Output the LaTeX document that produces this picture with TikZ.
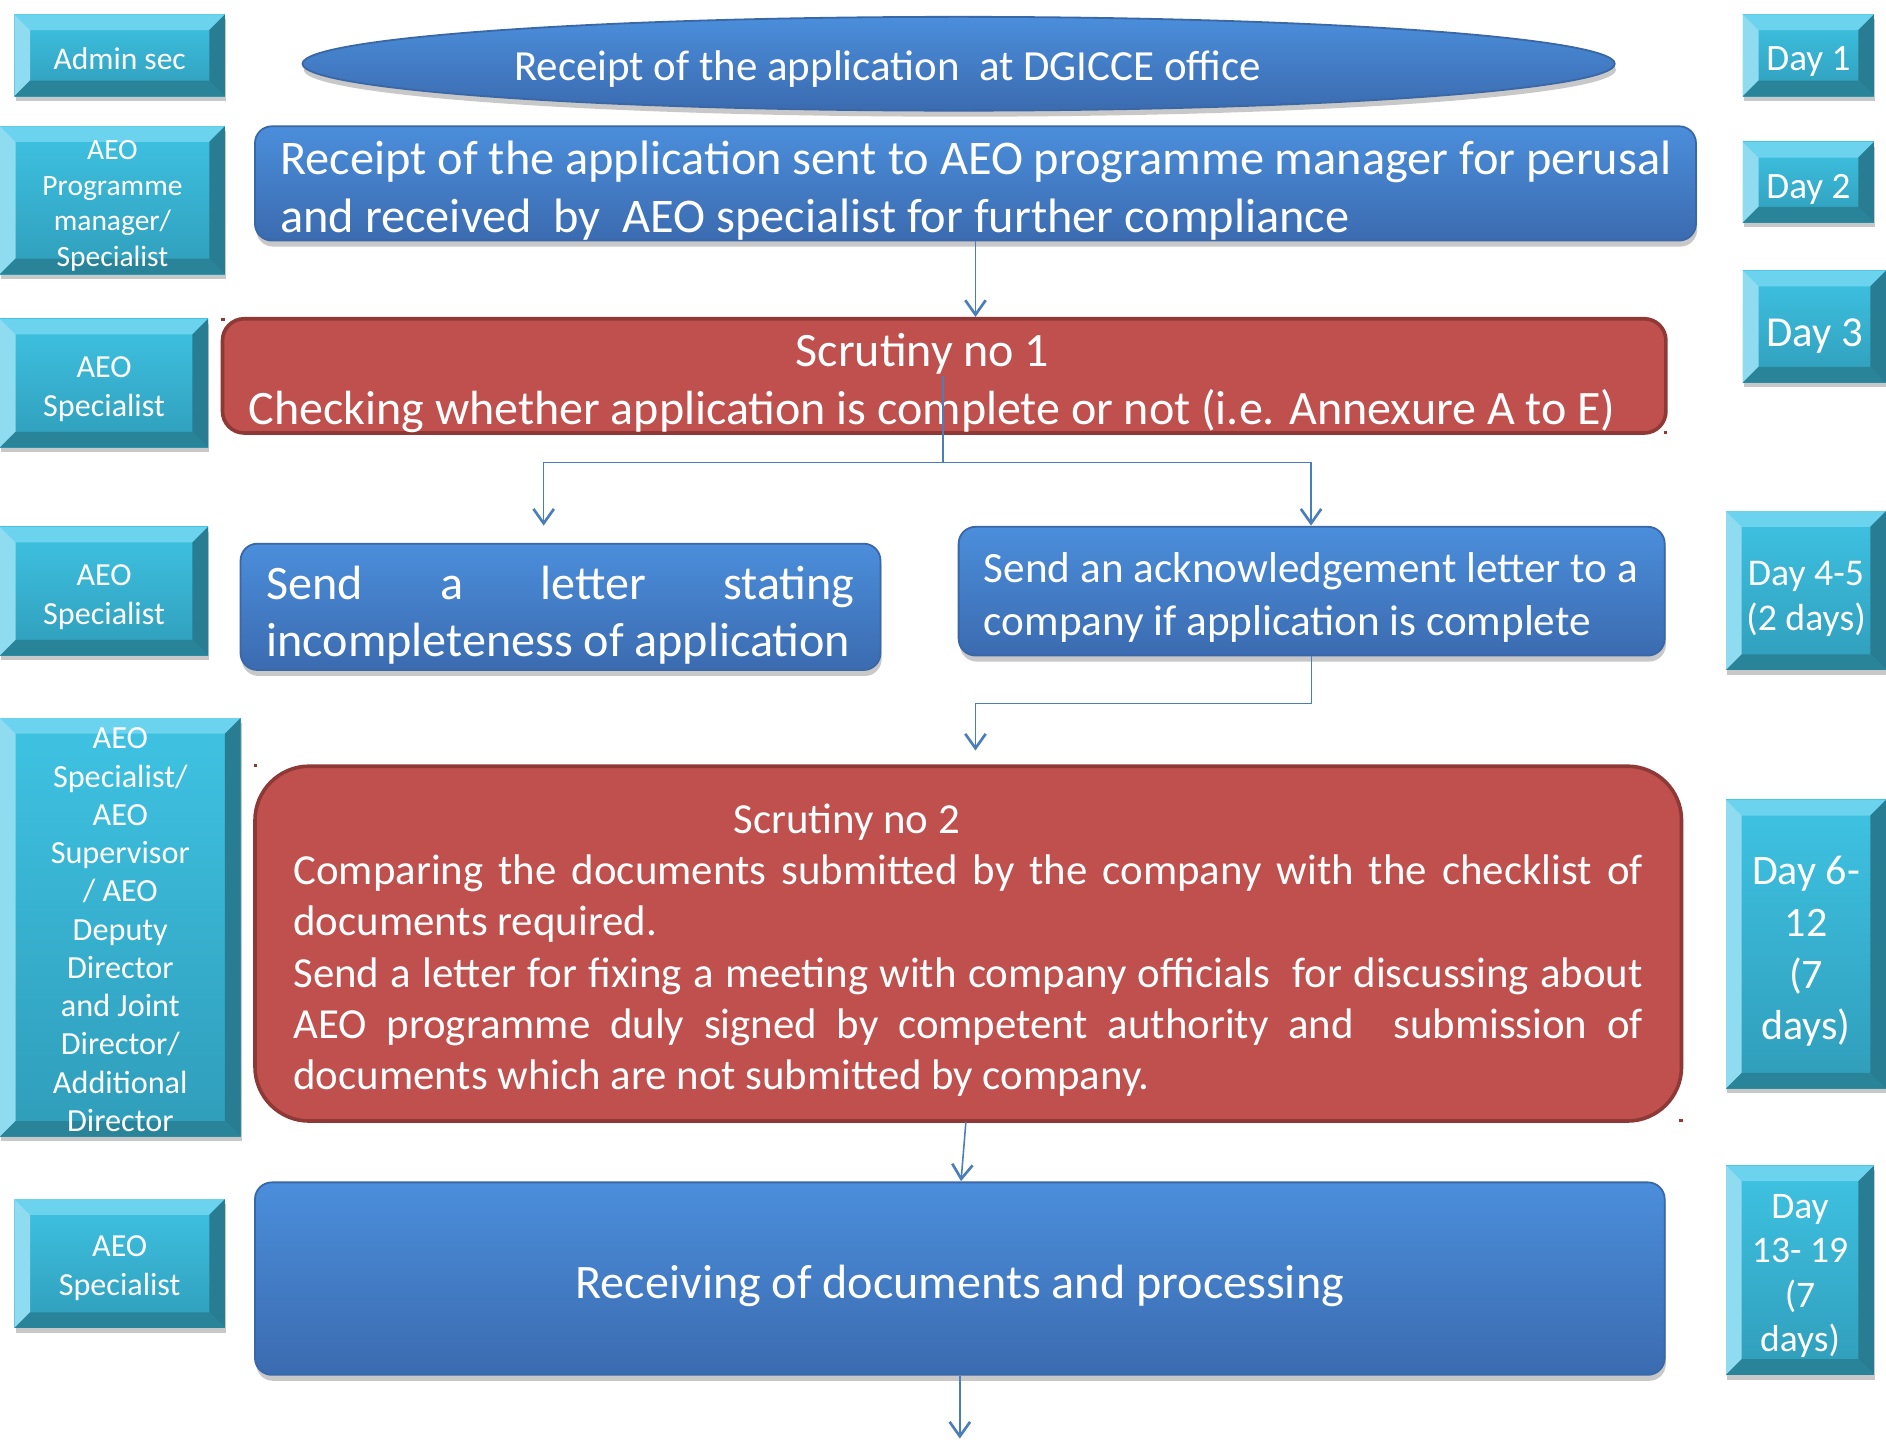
\documentclass[tikz,border=0pt]{standalone}
\usepackage{fontspec}
\setmainfont{Carlito}
\usetikzlibrary{arrows.meta,shadows,shapes.geometric,calc}
\definecolor{tealTop}{HTML}{3FC3E3}
\definecolor{tealBot}{HTML}{2F9DBA}
\definecolor{bevT}{HTML}{6CD3EE}
\definecolor{bevL}{HTML}{8FDBEF}
\definecolor{bevR}{HTML}{287D92}
\definecolor{bevB}{HTML}{2A8499}
\definecolor{blueTop}{HTML}{4B8EDB}
\definecolor{blueBot}{HTML}{3B6BB0}
\definecolor{blueEdge}{HTML}{3A67A6}
\definecolor{redFill}{HTML}{C0504D}
\definecolor{redEdge}{HTML}{8E3936}
\definecolor{lineBlue}{HTML}{4A7EBB}
\newcommand\nsp{\spaceskip=0pt\xspaceskip=0pt\relax}
% lowered text block: #1 drop, #2 width, #3 content
\newcommand\tb[3]{\raisebox{-#1}[\height][\depth]{\parbox{#2}{\nsp #3}}}
\newcommand\tl[2]{\raisebox{-#1}[\height][\depth]{\nsp #2}}
\tikzset{
  bevelbox/.style={rectangle, inner sep=0pt, top color=tealTop, bottom color=tealBot,
    text=white,
    drop shadow={shadow xshift=1pt, shadow yshift=-4pt, opacity=0.3, fill=black!70},
    path picture={
      \def\bw{13pt}
      \coordinate (pnw) at (path picture bounding box.north west);
      \coordinate (pne) at (path picture bounding box.north east);
      \coordinate (psw) at (path picture bounding box.south west);
      \coordinate (pse) at (path picture bounding box.south east);
      \fill[bevT] (pnw) -- (pne) -- ([xshift=-\bw,yshift=-\bw]pne) -- ([xshift=\bw,yshift=-\bw]pnw) -- cycle;
      \fill[bevL] (pnw) -- ([xshift=\bw,yshift=-\bw]pnw) -- ([xshift=\bw,yshift=\bw]psw) -- (psw) -- cycle;
      \fill[bevR] (pne) -- (pse) -- ([xshift=-\bw,yshift=\bw]pse) -- ([xshift=-\bw,yshift=-\bw]pne) -- cycle;
      \fill[bevB] (psw) -- ([xshift=\bw,yshift=\bw]psw) -- ([xshift=-\bw,yshift=\bw]pse) -- (pse) -- cycle;
    }},
  bluebox/.style={rectangle, rounded corners=14pt, inner sep=0pt, top color=blueTop, bottom color=blueBot,
    draw=blueEdge, line width=1.5pt, text=white,
    drop shadow={shadow xshift=1pt, shadow yshift=-5pt, opacity=0.3, fill=black!70}},
  redbox/.style={rectangle, rounded corners=18pt, inner sep=0pt, fill=redFill,
    draw=redEdge, line width=3pt, text=white},
  conn/.style={draw=lineBlue, line width=1.3pt, -{Straight Barb[length=12pt,width=17pt,line width=2.2pt]}},
  plainline/.style={draw=lineBlue, line width=1.3pt},
  dotmark/.style={fill=redEdge},
}
\begin{document}
\begin{tikzpicture}[x=1pt,y=-1pt]
\useasboundingbox (0,0) rectangle (1568,1197);
\fill[white] (0,0) rectangle (1568,1197);

% left role boxes
\node[bevelbox, minimum width=175pt, minimum height=68pt, font=\fontsize{26.2}{30}\selectfont] (admin) at (99.5,46) {\tl{3pt}{Admin sec}};
\node[bevelbox, minimum width=187pt, minimum height=123pt, font=\fontsize{24.5}{29.5}\selectfont] (pm) at (93.5,166.5) {\tb{4.5pt}{185pt}{\centering AEO\\Programme\\manager/\\Specialist}};
\node[bevelbox, minimum width=173pt, minimum height=107pt, font=\fontsize{26.7}{32}\selectfont] (sp3) at (86.5,318.5) {\tb{5pt}{170pt}{\centering AEO\\Specialist}};
\node[bevelbox, minimum width=173pt, minimum height=107pt, font=\fontsize{26.7}{32}\selectfont] (sp4) at (86.5,491.5) {\tb{5pt}{170pt}{\centering AEO\\Specialist}};
\node[bevelbox, minimum width=200pt, minimum height=348pt, font=\fontsize{26.8}{31.8}\selectfont] (tall) at (100,771) {\tb{2pt}{196pt}{\centering AEO\\Specialist/\\AEO\\Supervisor\\/ AEO\\Deputy\\Director\\and Joint\\Director/\\Additional\\Director}};
\node[bevelbox, minimum width=175pt, minimum height=107pt, font=\fontsize{26.7}{32}\selectfont] (sp6) at (99.5,1050.5) {\tb{4pt}{170pt}{\centering AEO\\Specialist}};

% day boxes
\node[bevelbox, minimum width=109pt, minimum height=68pt, font=\fontsize{30.9}{36}\selectfont] (d1) at (1503.5,46) {\tl{5.5pt}{Day 1}};
\node[bevelbox, minimum width=109pt, minimum height=67pt, font=\fontsize{30.9}{36}\selectfont] (d2) at (1503.5,151.5) {\tl{6pt}{Day 2}};
\node[bevelbox, minimum width=119pt, minimum height=93pt, font=\fontsize{35.5}{40}\selectfont] (d3) at (1508.5,271.5) {\tl{8pt}{Day 3}};
\node[bevelbox, minimum width=133pt, minimum height=132pt, font=\fontsize{31.4}{37}\selectfont] (d45) at (1501.5,491) {\tb{7pt}{130pt}{\centering Day 4-5\\(2 days)}};
\node[bevelbox, minimum width=133pt, minimum height=240pt, font=\fontsize{34.9}{43}\selectfont] (d612) at (1501.5,785) {\tb{6pt}{130pt}{\centering Day 6-\\12\\(7\\days)}};
\node[bevelbox, minimum width=123pt, minimum height=174pt, font=\fontsize{31.2}{37}\selectfont] (d1319) at (1496.5,1056) {\tb{5pt}{120pt}{\centering Day\\13- 19\\(7\\days)}};

% main flow
\node[ellipse, inner sep=0pt, minimum width=1091pt, minimum height=78pt, top color=blueTop, bottom color=blueBot,
  draw=blueEdge, line width=1.5pt, text=white, font=\fontsize{35.7}{40}\selectfont,
  drop shadow={shadow xshift=1pt, shadow yshift=-5pt, opacity=0.3, fill=black!70}] (rec) at (797,53)
  {\tl{4pt}{\hspace*{-118pt}Receipt of the application\ \ at DGICCE office}};

\node[bluebox, minimum width=1198pt, minimum height=95pt, font=\fontsize{40.2}{48}\selectfont] (b2) at (811,152.5)
  {\tb{6pt}{1156pt}{\raggedright\mbox{Receipt of the application sent to AEO programme manager for perusal}\\\mbox{and received\ \ by\ \ AEO specialist for further compliance}}};

\node[redbox, minimum width=1200pt, minimum height=95pt, font=\fontsize{39.9}{48}\selectfont] (r1) at (785,312.5)
  {\tb{6pt}{1190pt}{\centering\hspace*{-36pt}Scrutiny no 1\\\hspace*{-20pt}\mbox{Checking whether application is complete or not (i.e. Annexure A to E)}}};

\node[bluebox, minimum width=532pt, minimum height=105pt, font=\fontsize{40}{48}\selectfont] (lb) at (466,504.5)
  {\tb{7pt}{489pt}{\raggedright\makebox[\linewidth][s]{Send a letter stating}\\\mbox{incompleteness of application}}};

\node[bluebox, minimum width=587pt, minimum height=107pt, font=\fontsize{35.9}{44}\selectfont] (rb) at (1090.5,491.5)
  {\tb{5.5pt}{545pt}{\raggedright\mbox{Send an acknowledgement letter to a}\\\mbox{company if application is complete}}};

\node[redbox, rounded corners=45pt, minimum width=1186pt, minimum height=295pt, font=\fontsize{35.6}{42.6}\selectfont] (r2) at (805,784.5)
  {\tb{5.5pt}{1122pt}{\raggedright\hspace*{366pt}Scrutiny no 2\\
   \makebox[\linewidth][s]{Comparing the documents submitted by the company with the checklist of}\\
   \mbox{documents required.}\\
   \makebox[\linewidth][s]{Send a letter for fixing a meeting with company officials\ \ for discussing about}\\
   \makebox[\linewidth][s]{AEO programme duly signed by competent authority and\ \ submission of}\\
   \mbox{documents which are not submitted by company.}}};

\node[bluebox, minimum width=1172pt, minimum height=160pt, font=\fontsize{40}{44}\selectfont] (b3) at (798,1063)
  {\tl{6pt}{Receiving of documents and processing}};

% small marks
\fill[dotmark] (184,264) rectangle ++(3,3);
\fill[dotmark] (1383,358) rectangle ++(3,3);
\fill[dotmark] (211,635) rectangle ++(3,3);
\fill[dotmark] (1396,930) rectangle ++(3,3);

% connectors
\draw[conn] (b2.south) -- (b2.south |- r1.north);
\coordinate (sp) at ($(r1.center)+(-1,72)$);
\coordinate (aL) at (452,437);
\coordinate (aR) at (1090,437);
\draw[plainline] ($(r1.center)+(-1,0)$) -- (sp);
\draw[conn] (sp) -| (aL);
\draw[conn] (sp) -| (aR);
\coordinate (a2) at (811,624);
\draw[conn] (rb.south) |- ($(rb.south)+(0,39)$) -| (a2);
\coordinate (r2out) at (803,933);
\coordinate (b3in) at (799,982);
\draw[conn] (r2out) -- (b3in);
\coordinate (endpt) at (798,1196);
\draw[conn] (b3.south) -- (endpt);
\end{tikzpicture}
\end{document}
